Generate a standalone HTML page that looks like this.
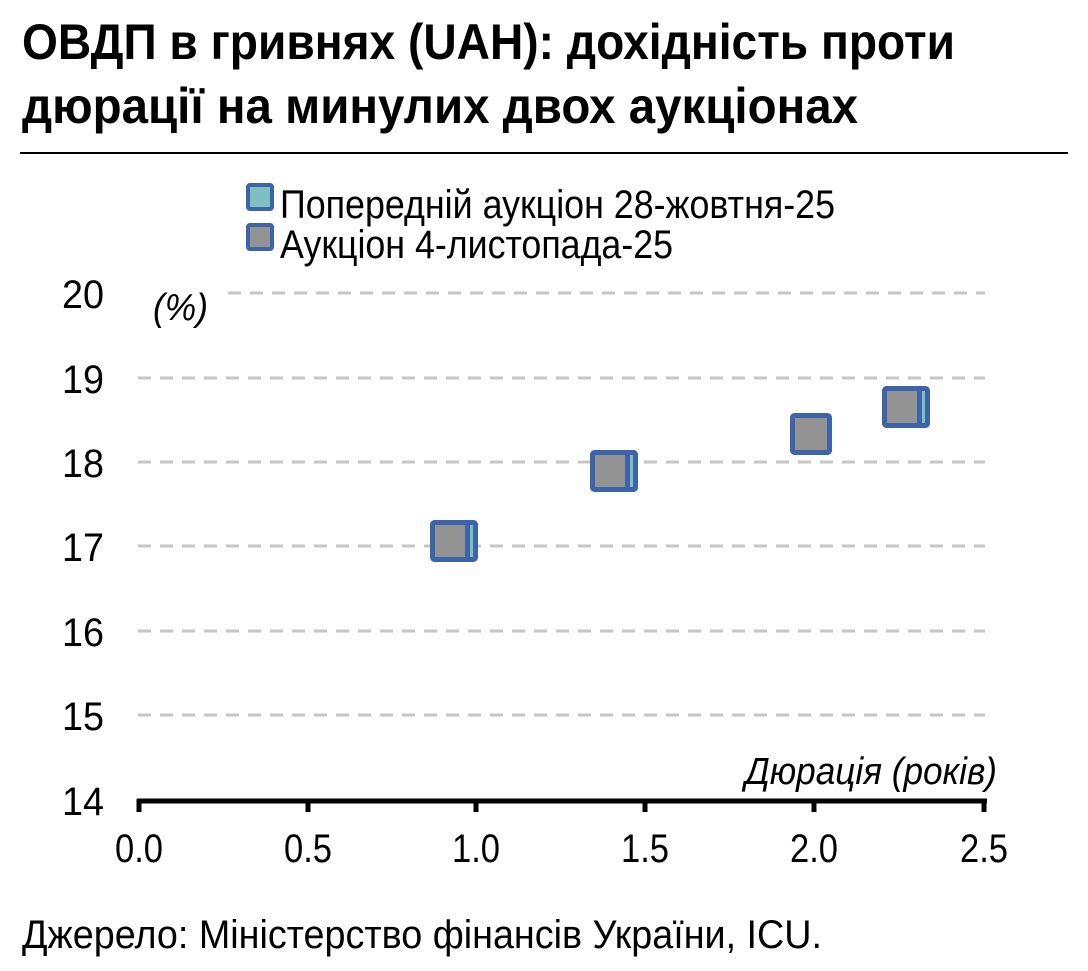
<!DOCTYPE html>
<html><head><meta charset="utf-8"><style>
html,body{margin:0;padding:0;background:#fff;}
svg{display:block;font-family:"Liberation Sans",sans-serif;}
</style></head><body>
<svg width="1088" height="971" viewBox="0 0 1088 971" xmlns="http://www.w3.org/2000/svg">
<text x="22" y="59" font-size="50" font-weight="bold" textLength="933" lengthAdjust="spacingAndGlyphs">ОВДП в гривнях (UAH): дохідність проти</text>
<text x="22" y="123" font-size="50" font-weight="bold" textLength="836" lengthAdjust="spacingAndGlyphs">дюрації на минулих двох аукціонах</text>
<line x1="20" y1="153" x2="1068" y2="153" stroke="#000" stroke-width="2"/>
<!-- legend -->
<rect x="248" y="185" width="24" height="24" fill="#7fbfbf" stroke="#3d63a8" stroke-width="4" rx="2"/>
<text x="280" y="218" font-size="40" textLength="555" lengthAdjust="spacingAndGlyphs">Попередній аукціон 28-жовтня-25</text>
<rect x="248" y="225" width="24" height="24" fill="#939393" stroke="#3d63a8" stroke-width="4" rx="2"/>
<text x="280" y="258" font-size="40" textLength="393" lengthAdjust="spacingAndGlyphs">Аукціон 4-листопада-25</text>
<!-- grid -->
<g stroke="#c6c6c6" stroke-width="3" stroke-dasharray="13 9">
<line x1="228" y1="293" x2="985" y2="293"/>
<line x1="138" y1="378" x2="985" y2="378"/>
<line x1="138" y1="462" x2="985" y2="462"/>
<line x1="138" y1="546" x2="985" y2="546"/>
<line x1="138" y1="631" x2="985" y2="631"/>
<line x1="138" y1="715" x2="985" y2="715"/>
</g>
<g font-size="40" text-anchor="end">
<text x="104" y="308" textLength="42" lengthAdjust="spacingAndGlyphs">20</text>
<text x="104" y="393" textLength="42" lengthAdjust="spacingAndGlyphs">19</text>
<text x="104" y="477" textLength="42" lengthAdjust="spacingAndGlyphs">18</text>
<text x="104" y="561" textLength="42" lengthAdjust="spacingAndGlyphs">17</text>
<text x="104" y="646" textLength="42" lengthAdjust="spacingAndGlyphs">16</text>
<text x="104" y="730" textLength="42" lengthAdjust="spacingAndGlyphs">15</text>
<text x="104" y="815" textLength="42" lengthAdjust="spacingAndGlyphs">14</text>
</g>
<text x="153" y="320" font-size="38" font-style="italic" textLength="55" lengthAdjust="spacingAndGlyphs">(%)</text>
<text x="745" y="784" font-size="38" font-style="italic" textLength="252" lengthAdjust="spacingAndGlyphs">Дюрація (років)</text>
<!-- axis -->
<line x1="137" y1="801" x2="987" y2="801" stroke="#000" stroke-width="5"/>
<g stroke="#000" stroke-width="5">
<line x1="139" y1="799" x2="139" y2="812"/><line x1="308" y1="799" x2="308" y2="812"/>
<line x1="476" y1="799" x2="476" y2="812"/><line x1="645" y1="799" x2="645" y2="812"/>
<line x1="814" y1="799" x2="814" y2="812"/><line x1="984" y1="799" x2="984" y2="812"/>
</g>
<g font-size="40" text-anchor="middle">
<text x="139" y="862" textLength="48" lengthAdjust="spacingAndGlyphs">0.0</text>
<text x="308" y="862" textLength="48" lengthAdjust="spacingAndGlyphs">0.5</text>
<text x="476" y="862" textLength="48" lengthAdjust="spacingAndGlyphs">1.0</text>
<text x="645" y="862" textLength="48" lengthAdjust="spacingAndGlyphs">1.5</text>
<text x="814" y="862" textLength="48" lengthAdjust="spacingAndGlyphs">2.0</text>
<text x="984" y="862" textLength="48" lengthAdjust="spacingAndGlyphs">2.5</text>
</g>
<!-- markers -->
<g stroke="#3d63a8" stroke-width="5">
<rect x="440.5" y="522.5" width="35" height="37" fill="#7fbfbf" rx="2"/>
<rect x="432.5" y="522.5" width="35" height="37" fill="#939393" rx="2"/>
<rect x="600.5" y="452.5" width="35" height="37" fill="#7fbfbf" rx="2"/>
<rect x="592.5" y="452.5" width="35" height="37" fill="#939393" rx="2"/>
<rect x="792.5" y="415.5" width="37" height="37" fill="#939393" rx="2"/>
<rect x="892.5" y="388.5" width="35" height="37" fill="#7fbfbf" rx="2"/>
<rect x="884.5" y="388.5" width="35" height="37" fill="#939393" rx="2"/>
</g>
<text x="22" y="948" font-size="40" textLength="800" lengthAdjust="spacingAndGlyphs">Джерело: Міністерство фінансів України, ICU.</text>
</svg>
</body></html>
